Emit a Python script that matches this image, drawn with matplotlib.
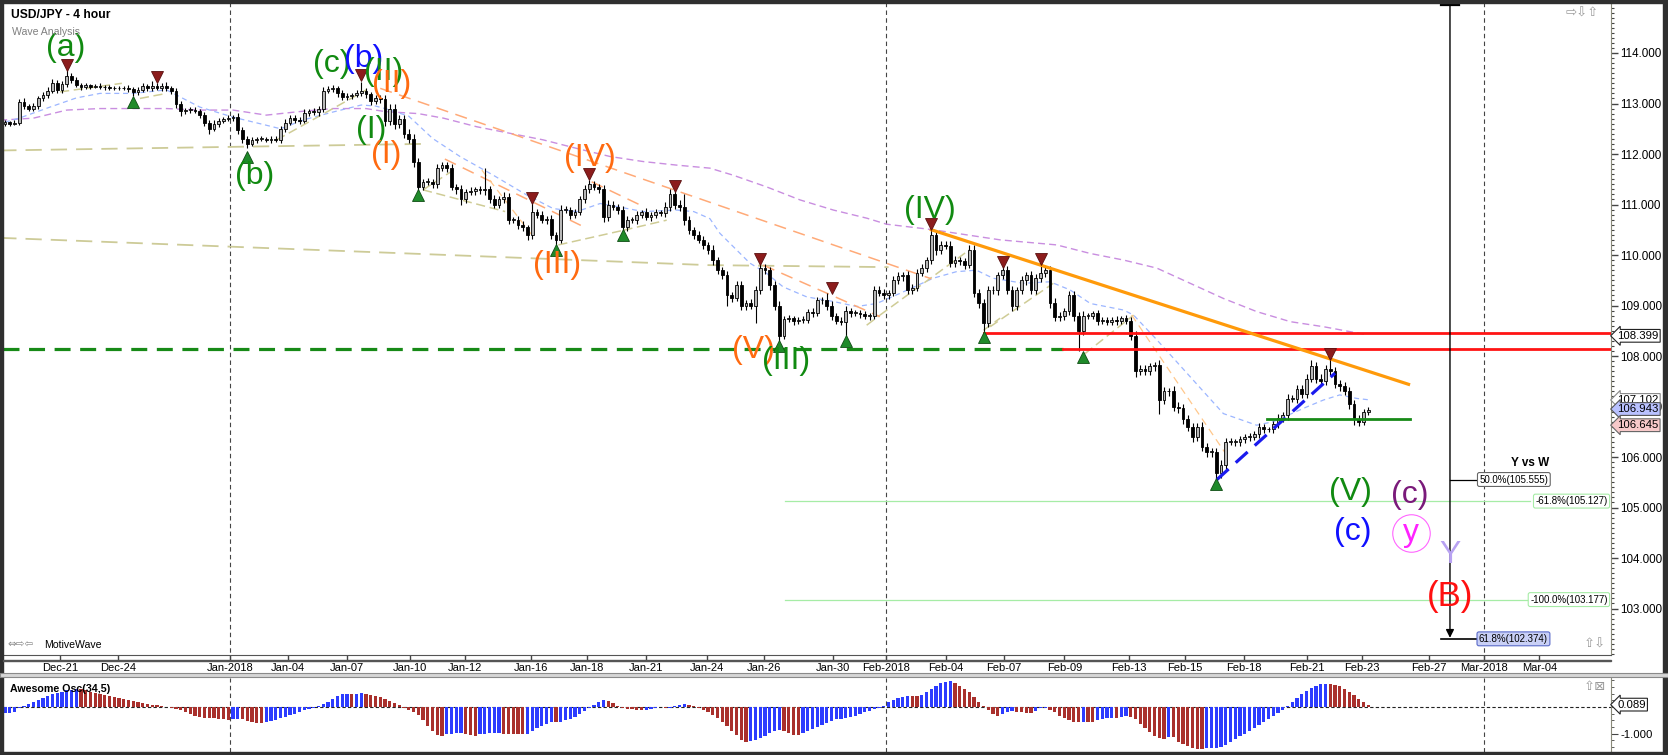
import numpy as np
import matplotlib
matplotlib.use("Agg")
import matplotlib.pyplot as plt
from matplotlib.patches import Rectangle
from matplotlib.transforms import blended_transform_factory
from matplotlib.ticker import MultipleLocator, FixedLocator

plt.rcParams['font.family'] = ['Liberation Sans', 'DejaVu Sans']

# ---- USD/JPY 4h candles (bar index = 4h bar), open = previous close ----
first_open = 112.60
close = [
    112.63, 112.60, 112.62, 113.03, 112.95, 112.90, 112.95, 113.10, 113.17, 113.25, 113.40, 113.27,
    113.38, 113.55, 113.47, 113.37, 113.33, 113.36, 113.33, 113.35, 113.33, 113.32, 113.30, 113.31,
    113.30, 113.31, 113.28, 113.22, 113.27, 113.34, 113.30, 113.35, 113.30, 113.35, 113.30, 113.25,
    113.00, 112.85, 112.88, 112.88, 112.85, 112.78, 112.62, 112.50, 112.60, 112.66, 112.70, 112.72,
    112.73, 112.47, 112.30, 112.20, 112.28, 112.30, 112.30, 112.28, 112.30, 112.28, 112.50, 112.62,
    112.72, 112.68, 112.66, 112.82, 112.85, 112.83, 112.90, 113.25, 113.28, 113.30, 113.20, 113.12,
    113.15, 113.17, 113.20, 113.25, 113.18, 113.05, 113.10, 113.08, 112.65, 112.90, 112.60, 112.70,
    112.40, 112.30, 111.85, 111.35, 111.45, 111.45, 111.40, 111.72, 111.78, 111.72, 111.35, 111.30,
    111.10, 111.25, 111.27, 111.30, 111.28, 111.30, 111.10, 111.00, 111.10, 111.15, 110.70, 110.70,
    110.60, 110.55, 110.40, 110.85, 110.80, 110.70, 110.72, 110.40, 110.30, 110.90, 110.90, 110.80,
    110.85, 111.10, 111.30, 111.40, 111.35, 111.30, 110.75, 111.00, 110.95, 110.90, 110.55, 110.70,
    110.70, 110.80, 110.85, 110.75, 110.80, 110.85, 110.83, 110.95, 111.20, 111.00, 110.95, 110.70,
    110.50, 110.40, 110.30, 110.20, 110.10, 109.90, 109.70, 109.60, 109.20, 109.15, 109.40, 109.00,
    109.05, 109.00, 109.30, 109.75, 109.70, 109.40, 109.00, 108.40, 108.74, 108.75, 108.70, 108.72,
    108.72, 108.88, 108.85, 109.10, 109.10, 109.00, 108.80, 108.70, 108.67, 108.90, 108.85, 108.85,
    108.83, 108.80, 108.80, 109.30, 109.25, 109.20, 109.25, 109.50, 109.58, 109.60, 109.30, 109.35,
    109.65, 109.75, 109.90, 110.40, 110.10, 110.20, 110.18, 109.85, 109.90, 109.88, 109.80, 110.10,
    109.25, 109.05, 108.65, 109.30, 109.30, 109.60, 109.70, 109.30, 109.00, 109.30, 109.50, 109.60,
    109.30, 109.55, 109.65, 109.70, 109.05, 108.77, 108.80, 108.90, 109.20, 108.80, 108.50, 108.80,
    108.80, 108.85, 108.70, 108.72, 108.68, 108.72, 108.70, 108.75, 108.70, 108.40, 107.70, 107.75,
    107.70, 107.80, 107.83, 107.13, 107.30, 107.30, 107.00, 106.98, 106.75, 106.60, 106.40, 106.60,
    106.20, 106.10, 106.10, 105.68, 105.85, 106.30, 106.30, 106.30, 106.35, 106.40, 106.40, 106.45,
    106.60, 106.55, 106.55, 106.65, 106.78, 106.83, 107.15, 107.15, 107.35, 107.25, 107.55, 107.80,
    107.55, 107.50, 107.75, 107.70, 107.45, 107.40, 107.30, 107.05, 106.75, 106.70, 106.90, 106.94,
]
# wick lengths above / below the body, in pips
wick_up = [
    4, 3, 5, 6, 8, 5, 6, 5, 6, 7, 8, 6,
    7, 11, 5, 6, 4, 5, 3, 4, 5, 3, 4, 3,
    3, 4, 5, 4, 6, 7, 5, 10, 6, 5, 7, 4,
    6, 5, 4, 6, 5, 4, 5, 6, 7, 5, 4, 6,
    5, 8, 6, 5, 6, 4, 5, 4, 6, 5, 5, 7,
    6, 5, 6, 7, 5, 6, 6, 8, 7, 6, 5, 6,
    5, 4, 6, 18, 6, 5, 6, 7, 8, 10, 9, 8,
    7, 10, 9, 8, 6, 7, 5, 8, 6, 7, 9, 6,
    8, 6, 7, 5, 6, 42, 7, 8, 6, 9, 8, 6,
    7, 8, 5, 20, 6, 7, 5, 8, 6, 9, 7, 6,
    7, 6, 8, 8, 7, 6, 9, 8, 7, 6, 8, 7,
    6, 7, 5, 8, 6, 7, 5, 9, 10, 7, 8, 25,
    7, 6, 8, 7, 6, 9, 7, 6, 8, 7, 9, 8,
    6, 7, 9, 8, 8, 7, 9, 8, 6, 7, 5, 6,
    7, 6, 8, 7, 6, 15, 8, 6, 7, 9, 6, 7,
    6, 7, 5, 9, 8, 7, 6, 9, 8, 7, 9, 8,
    7, 8, 6, 10, 9, 8, 7, 9, 8, 7, 6, 10,
    9, 8, 7, 9, 8, 7, 10, 8, 9, 7, 8, 6,
    9, 8, 15, 7, 8, 9, 7, 6, 9, 8, 7, 9,
    6, 5, 7, 6, 5, 6, 7, 5, 6, 8, 9, 7,
    8, 7, 6, 9, 8, 7, 10, 8, 7, 9, 8, 7,
    9, 8, 7, 8, 9, 7, 8, 6, 7, 6, 7, 6,
    7, 6, 5, 7, 8, 7, 9, 8, 7, 8, 9, 12,
    8, 9, 7, 22, 8, 7, 9, 8, 7, 8, 6, 5,
]
wick_dn = [
    5, 4, 3, 5, 6, 5, 4, 6, 5, 6, 5, 7,
    6, 5, 7, 5, 6, 4, 5, 3, 4, 5, 4, 3,
    4, 3, 5, 7, 5, 4, 6, 5, 4, 6, 5, 6,
    8, 10, 5, 6, 4, 7, 6, 10, 5, 6, 4, 5,
    6, 7, 9, 8, 5, 6, 4, 5, 6, 5, 7, 6,
    5, 6, 7, 5, 6, 5, 7, 6, 5, 6, 7, 6,
    5, 6, 5, 6, 7, 8, 6, 7, 9, 8, 10, 8,
    9, 8, 10, 8, 7, 6, 8, 7, 6, 8, 7, 9,
    10, 7, 6, 8, 7, 9, 8, 7, 6, 8, 9, 7,
    8, 7, 10, 8, 7, 6, 8, 9, 12, 7, 6, 8,
    7, 6, 8, 7, 6, 8, 9, 7, 6, 8, 8, 7,
    6, 8, 7, 6, 8, 7, 6, 8, 7, 9, 8, 10,
    9, 8, 7, 9, 8, 10, 8, 7, 20, 8, 7, 9,
    8, 7, 35, 8, 7, 9, 8, 10, 7, 6, 8, 7,
    6, 7, 8, 6, 7, 8, 9, 7, 6, 27, 7, 6,
    7, 6, 8, 7, 6, 8, 7, 6, 8, 9, 7, 8,
    7, 6, 8, 7, 9, 8, 7, 8, 9, 7, 8, 6,
    8, 9, 20, 8, 7, 9, 8, 7, 10, 8, 7, 9,
    8, 7, 9, 8, 9, 8, 7, 9, 8, 10, 40, 8,
    7, 6, 8, 7, 6, 7, 8, 6, 7, 9, 12, 8,
    7, 8, 9, 27, 8, 9, 8, 10, 9, 8, 10, 9,
    8, 9, 10, 12, 9, 8, 7, 8, 9, 7, 8, 7,
    8, 7, 6, 8, 7, 8, 9, 7, 8, 9, 8, 7,
    9, 8, 7, 8, 9, 10, 8, 9, 12, 9, 7, 6,
]
# Awesome Oscillator (34,5), one value per bar
ao_vals = [
    -0.24, -0.22, -0.18, -0.05, 0.02, 0.10, 0.18, 0.28, 0.34, 0.41, 0.48, 0.53,
    0.58, 0.62, 0.65, 0.67, 0.66, 0.62, 0.57, 0.53, 0.48, 0.44, 0.40, 0.36,
    0.32, 0.29, 0.26, 0.22, 0.19, 0.16, 0.13, 0.09, 0.06, 0.03, 0.01, -0.03,
    -0.06, -0.12, -0.20, -0.27, -0.33, -0.37, -0.40, -0.42, -0.43, -0.45, -0.46, -0.47,
    -0.45, -0.44, -0.46, -0.52, -0.56, -0.60, -0.61, -0.56, -0.52, -0.48, -0.43, -0.37,
    -0.31, -0.25, -0.18, -0.13, -0.08, -0.04, 0.02, 0.10, 0.18, 0.30, 0.40, 0.47,
    0.50, 0.49, 0.50, 0.51, 0.49, 0.46, 0.42, 0.37, 0.30, 0.22, 0.14, 0.06,
    -0.02, -0.10, -0.18, -0.30, -0.50, -0.70, -0.90, -1.05, -1.10, -1.02, -1.00, -0.99,
    -0.98, -1.00, -1.05, -1.10, -1.02, -1.00, -0.99, -0.98, -0.97, -1.00, -1.00, -1.00,
    -1.01, -1.02, -1.00, -0.88, -0.78, -0.70, -0.62, -0.56, -0.58, -0.56, -0.50, -0.45,
    -0.38, -0.28, -0.15, -0.04, 0.08, 0.20, 0.25, 0.22, 0.14, 0.05, -0.02, -0.06,
    -0.09, -0.11, -0.12, -0.10, -0.06, -0.03, -0.01, -0.04, -0.02, 0.04, 0.08, 0.11,
    0.07, 0.03, -0.04, -0.10, -0.18, -0.30, -0.42, -0.55, -0.70, -0.88, -1.05, -1.25,
    -1.32, -1.28, -1.25, -1.15, -1.08, -0.98, -0.90, -0.85, -0.88, -0.98, -1.05, -1.06,
    -0.98, -0.90, -0.82, -0.74, -0.67, -0.60, -0.52, -0.45, -0.44, -0.42, -0.38, -0.33,
    -0.27, -0.20, -0.14, -0.08, -0.03, 0.04, 0.18, 0.28, 0.33, 0.37, 0.43, 0.42,
    0.41, 0.45, 0.55, 0.68, 0.80, 0.90, 0.95, 0.96, 0.90, 0.80, 0.68, 0.55,
    0.38, 0.20, 0.03, -0.12, -0.28, -0.32, -0.28, -0.20, -0.15, -0.18, -0.20, -0.22,
    -0.23, -0.15, -0.05, -0.03, -0.10, -0.20, -0.32, -0.42, -0.50, -0.55, -0.56, -0.55,
    -0.55, -0.56, -0.50, -0.45, -0.42, -0.40, -0.42, -0.38, -0.35, -0.37, -0.45, -0.62,
    -0.80, -0.95, -1.08, -1.15, -1.18, -1.12, -1.14, -1.30, -1.40, -1.47, -1.53, -1.56,
    -1.58, -1.55, -1.54, -1.53, -1.50, -1.42, -1.30, -1.20, -1.10, -1.00, -0.90, -0.78,
    -0.68, -0.57, -0.45, -0.33, -0.22, -0.10, 0.02, 0.18, 0.35, 0.48, 0.60, 0.70,
    0.78, 0.85, 0.88, 0.86, 0.82, 0.77, 0.68, 0.57, 0.45, 0.30, 0.20, 0.089,
]

# date axis (bar positions of the day labels)
date_labels = ['Dec-21', 'Dec-24', 'Jan-2018', 'Jan-04', 'Jan-07', 'Jan-10', 'Jan-12', 'Jan-16',
               'Jan-18', 'Jan-21', 'Jan-24', 'Jan-26', 'Jan-30', 'Feb-2018', 'Feb-04', 'Feb-07',
               'Feb-09', 'Feb-13', 'Feb-15', 'Feb-18', 'Feb-21', 'Feb-23', 'Feb-27', 'Mar-2018', 'Mar-04']
date_pos = [11.6, 23.8, 47.4, 59.6, 72.0, 85.3, 96.8, 110.7, 122.5, 135.0, 147.8, 159.8, 174.3,
            185.5, 198.0, 210.3, 223.0, 236.6, 248.4, 260.8, 274.0, 285.7, 299.8, 311.4, 323.0]
month_pos = [47.4, 185.5, 311.4]

# moving averages (bar, price)
ma_fast_x = [0, 3, 9.5, 15, 20, 27, 34, 41, 48, 55, 58, 63, 69, 75, 78, 80, 85, 90, 95.8, 102.8,
             109.8, 115.4, 120.4, 125.3, 128.8, 134.4, 141.4, 145, 148.4, 150.5, 156.8, 160.3, 163.8,
             168.8, 174.4, 179.3, 183.5, 188.4, 195.4, 200.3, 204.5, 208, 214.4, 220, 224.2, 228.5,
             235.5, 237.6, 242.5, 249.5, 256.5, 263.5, 267, 274, 277.6, 281, 284.6, 287.4]
ma_fast_y = [112.63, 112.71, 112.93, 113.11, 113.2, 113.2, 113.27, 112.93, 112.73, 112.57, 112.5,
             112.68, 112.83, 112.97, 112.95, 112.9, 112.75, 112.31, 111.95, 111.58, 111.19, 110.92,
             110.86, 111.02, 110.96, 110.86, 110.89, 110.86, 110.72, 110.43, 109.84, 109.64, 109.37,
             109.17, 109.08, 108.98, 109.04, 109.24, 109.54, 109.67, 109.7, 109.54, 109.44, 109.47,
             109.31, 109.04, 108.91, 108.81, 108.32, 107.59, 106.86, 106.63, 106.7, 106.99, 107.13,
             107.23, 107.16, 107.13]
ma_slow_x = [-1, 6, 13, 20, 34, 41, 48, 55, 62, 69, 76, 80, 87, 92.3, 99.3, 106.3, 113.3, 120.4,
             127.4, 134.4, 141.4, 148.4, 153.3, 160.3, 167.4, 174.4, 181.4, 185.6, 195.4, 202.4,
             209.5, 221.4, 228.5, 235.5, 242.5, 249.5, 256.5, 263.5, 270.6, 277.6, 286.7]
ma_slow_y = [112.67, 112.71, 112.87, 112.9, 112.9, 112.87, 112.87, 112.77, 112.84, 112.9, 112.9,
             112.84, 112.8, 112.71, 112.54, 112.41, 112.28, 112.11, 111.95, 111.85, 111.78, 111.72,
             111.58, 111.35, 111.09, 110.89, 110.73, 110.61, 110.5, 110.4, 110.3, 110.2, 110.03,
             109.9, 109.74, 109.44, 109.14, 108.88, 108.68, 108.58, 108.42]
ma_long_x = [-1, 85, 148, 186]
ma_long_y = [110.34, 110.03, 109.80, 109.76]
ma_mid_x = [-1, 88]
ma_mid_y = [112.07, 112.20]

# swing connectors (bar0, price0, bar1, price1)
zigzag = [(11.6, 113.23, 24.6, 113.40), (28.4, 113.10, 34.0, 113.20), (57.2, 112.28, 76.1, 113.27),
          (88.0, 111.29, 94.4, 111.68), (88.0, 111.29, 105.3, 110.86), (116.5, 110.20, 130.2, 110.49),
          (130.2, 110.49, 139.3, 110.69), (181.4, 108.61, 184.2, 108.81), (184.2, 108.81, 203.0, 110.10),
          (206.0, 108.51, 209.5, 108.75), (207.4, 108.58, 220.7, 109.44), (227.4, 108.05, 237.6, 108.81)]
channels = [(79.0, 113.30, 195.0, 109.53), (92.6, 111.90, 121.8, 110.56), (123.5, 111.45, 134.4, 110.96),
            (159.6, 109.80, 184.2, 108.78)]
channels_light = [(100.4, 111.68, 110.9, 110.40), (237.2, 108.81, 257.9, 105.94)]

# pivot markers
piv_hi_x = [13, 32, 75, 111, 123, 141, 159, 174, 195, 210, 218, 279]
piv_hi_y = [113.76, 113.52, 113.56, 111.13, 111.60, 111.37, 109.92, 109.35, 110.61, 109.86, 109.92, 108.04]
piv_lo_x = [27, 51, 87, 116, 130, 163, 177, 206, 227, 255]
piv_lo_y = [113.03, 111.94, 111.19, 110.10, 110.40, 108.20, 108.30, 108.37, 107.98, 105.47]

# key levels and trend lines
support_level = 108.14
support_end = 222.7
resist_top = 108.45
resist_top_start = 206
trend_x = [194.7, 295.8]
trend_y = [110.51, 107.43]
channel_x = [255.1, 280.0]
channel_y = [105.55, 107.66]
flat_level = 106.75
flat_x = [265.6, 295.8]
fib_levels = [105.127, 103.177]
fib_start = 164.2
fib_end = 321.0
target_bar = 304.2
target_hi = 105.555
target_lo = 102.40

# Elliott wave labels
wave_text = ['(a)', '(b)', '(c)', '(b)', '(II)', '(II)', '(I)', '(I)', '(IV)', '(III)', '(V)',
             '(III)', '(IV)', '(V)', '(c)', '(c)', 'y', 'Y', '(B)']
wave_x = [12.8, 52.6, 68.8, 75.4, 79.8, 81.3, 77.1, 80.2, 123.2, 116.2, 157.5, 164.4, 194.7,
          283.2, 283.8, 295.8, 296.0, 304.2, 304.2]
wave_y = [114.10, 111.56, 113.78, 113.88, 113.62, 113.39, 112.48, 111.98, 111.92, 109.80, 108.12,
          107.90, 110.89, 105.31, 104.51, 105.25, 104.50, 104.06, 103.23]
wave_col = ['#118a11', '#118a11', '#118a11', '#1010ff', '#118a11', '#ff6a10', '#118a11', '#ff6a10',
            '#ff6a10', '#ff6a10', '#ff6a10', '#118a11', '#118a11', '#118a11', '#1010ff', '#7a1a7a',
            '#ff22ff', '#b8a2f2', '#ff1010']

W, H = 1668, 755
fig = plt.figure(figsize=(W / 100, H / 100), dpi=100)


def rect(l, t, r, b):
    return [l / W, 1 - b / H, (r - l) / W, (b - t) / H]


ax = fig.add_axes(rect(3, 3, 1611, 655))
oax = fig.add_axes(rect(3, 678, 1611, 752))
xmin, xmax = -0.42, 338.1

n = min(len(close), len(wick_up), len(wick_dn), len(ao_vals))
x = np.arange(n)
c = np.array(close[:n])
o = np.r_[first_open, c[:-1]]
hi = np.maximum(o, c) + np.array(wick_up[:n]) / 100
lo = np.minimum(o, c) - np.array(wick_dn[:n]) / 100
up = c >= o
body = np.maximum(np.abs(c - o), 0.012)

# indicator lines
ax.plot(ma_slow_x, ma_slow_y, color='#c98ee0', lw=1.0, dashes=(5, 3), zorder=2)
ax.plot(ma_fast_x, ma_fast_y, color='#9cb6ff', lw=0.9, dashes=(4, 3), zorder=2)
ax.plot(ma_long_x, ma_long_y, color='#cdcb98', lw=1.3, dashes=(9, 5), zorder=2)
ax.plot(ma_mid_x, ma_mid_y, color='#cdcb98', lw=1.3, dashes=(9, 5), zorder=2)
for x0, y0, x1, y1 in zigzag:
    ax.plot([x0, x1], [y0, y1], color='#cfcc96', lw=1.1, dashes=(6, 3), zorder=2)
for x0, y0, x1, y1 in channels:
    ax.plot([x0, x1], [y0, y1], color='#ffaa78', lw=1.1, dashes=(8, 5), zorder=2)
for x0, y0, x1, y1 in channels_light:
    ax.plot([x0, x1], [y0, y1], color='#ffc88c', lw=0.9, dashes=(6, 4), zorder=2)

# fib lines
for lvl in fib_levels:
    ax.plot([fib_start, fib_end], [lvl, lvl], color='#a6eca6', lw=0.9, zorder=2)

# candles
ax.vlines(x, lo, hi, color='black', lw=0.8, zorder=3)
ax.bar(x[up], body[up], bottom=o[up], width=0.62, color='#b8b8b8', edgecolor='black',
       linewidth=0.6, zorder=4)
ax.bar(x[~up], body[~up], bottom=c[~up], width=0.62, color='black', edgecolor='black',
       linewidth=0.6, zorder=4)

# pivots
ax.plot(piv_hi_x, piv_hi_y, 'v', ms=9, color='#8c1c1c', mec='#5a0f0f', mew=0.6, zorder=6)
ax.plot(piv_lo_x, piv_lo_y, '^', ms=9, color='#1f8a2a', mec='#0f4d14', mew=0.6, zorder=6)

# key lines
ax.plot([xmin, support_end], [support_level, support_level], color='#178a17', lw=2.3,
        dashes=(5, 3), zorder=5)
ax.plot([support_end, xmax], [support_level, support_level], color='#ff1414', lw=2.0, zorder=5)
ax.plot([resist_top_start, xmax], [resist_top, resist_top], color='#ff1414', lw=2.0, zorder=5)
ax.plot(trend_x, trend_y, color='#ff9a0a', lw=2.3, zorder=5, solid_capstyle='butt')
ax.plot(channel_x, channel_y, color='#1a1aee', lw=2.3, dashes=(5, 3), zorder=5)
ax.plot(flat_x, [flat_level, flat_level], color='#178a17', lw=2.0, zorder=5)

# projection arrow
ax.annotate('', xy=(target_bar, target_lo + 0.02), xytext=(target_bar, 114.97),
            arrowprops=dict(arrowstyle='-|>', color='black', lw=1.0, mutation_scale=12,
                            shrinkA=0, shrinkB=0), zorder=5)
ax.plot([target_bar - 1.9, target_bar + 1.9], [114.95, 114.95], color='black', lw=1.6, zorder=5)
ax.plot([target_bar - 1.9, 310.2], [target_lo, target_lo], color='black', lw=1.2, zorder=5)
ax.plot([target_bar, 310.3], [target_hi, target_hi], color='black', lw=0.9, zorder=5)

tag_kw = dict(fontsize=7, va='center', zorder=8)
ax.text(310.4, target_hi, '50.0%(105.555)', ha='left',
        bbox=dict(boxstyle='round,pad=0.2', fc='white', ec='#666666', lw=0.8), **tag_kw)
ax.text(337.4, fib_levels[0], '-61.8%(105.127)', ha='right',
        bbox=dict(boxstyle='round,pad=0.2', fc='white', ec='#a6eca6', lw=0.8), **tag_kw)
ax.text(337.4, fib_levels[1], '-100.0%(103.177)', ha='right',
        bbox=dict(boxstyle='round,pad=0.2', fc='white', ec='#a6eca6', lw=0.8), **tag_kw)
ax.text(310.3, target_lo, '61.8%(102.374)', ha='left',
        bbox=dict(boxstyle='round,pad=0.2', fc='#c9d0f6', ec='#5a6ac8', lw=0.8), **tag_kw)
ax.text(321, 105.88, 'Y vs W', ha='center', va='center', fontsize=8.5, fontweight='bold', zorder=8)

# wave labels
for t, wx, wy, col in zip(wave_text, wave_x, wave_y, wave_col):
    fs = 25 if t == '(B)' else 23
    ax.text(wx, wy, t, color=col, fontsize=fs, ha='center', va='center', zorder=7)
ax.plot([wave_x[16]], [wave_y[16]], 'o', ms=27, mfc='none', mec='#ff66ff', mew=0.8, zorder=7)

# axes styling: price panel
ax.set_xlim(xmin, xmax)
ax.set_ylim(102.08, 114.99)
for s in ['top', 'left']:
    ax.spines[s].set_visible(False)
ax.spines['right'].set_color('#8a8a7a')
ax.spines['bottom'].set_color('#555555')
ax.yaxis.tick_right()
ax.yaxis.set_major_locator(FixedLocator(np.arange(103, 115)))
ax.yaxis.set_minor_locator(MultipleLocator(0.1))
ax.yaxis.set_major_formatter(plt.FuncFormatter(lambda v, p: '%.3f' % v))
ax.tick_params(axis='y', which='major', length=5, width=1, color='#444', labelsize=8.4, pad=1.5)
ax.tick_params(axis='y', which='minor', length=2.5, width=0.8, color='#444')
ax.set_xticks(date_pos)
ax.set_xticklabels(date_labels)
ax.tick_params(axis='x', length=3.7, width=1, color='#444', labelsize=8, pad=2.2)
for mp in month_pos:
    ax.axvline(mp, ymin=-5 / 652, ymax=1, clip_on=False, color='#444', lw=0.8, dashes=(4, 3),
               zorder=1)

trans = blended_transform_factory(ax.transAxes, ax.transData)
side_tags = [('108.399', 108.40, 'white', '#222'), ('107.102', 107.13, 'white', '#888'),
             ('106.943', 106.95, '#b9c1ff', '#555'), ('106.645', 106.63, '#f7c9c9', '#666')]
for txt, val, fc, ec in side_tags:
    ax.text(1.004, val, txt, transform=trans, fontsize=8.2, va='center', ha='left', clip_on=False,
            bbox=dict(boxstyle='larrow,pad=0.12', fc=fc, ec=ec, lw=0.8), zorder=10)

# oscillator panel
ao = np.array(ao_vals[:n])
rising = np.r_[True, ao[1:] > ao[:-1]]
oax.bar(x, ao, width=0.72, color=np.where(rising, '#2c3cff', '#a9302c'), zorder=3)
oax.axhline(0, color='#222', lw=0.8, dashes=(3, 2), zorder=2)
for mp in month_pos:
    oax.axvline(mp, color='#444', lw=0.8, dashes=(4, 3), zorder=1)
oax.set_xlim(xmin, xmax)
oax.set_ylim(-1.685, 1.086)
for s in ['top', 'left', 'bottom']:
    oax.spines[s].set_visible(False)
oax.spines['right'].set_color('#8a8a7a')
oax.set_xticks([])
oax.yaxis.tick_right()
oax.yaxis.set_major_locator(FixedLocator([-1.0]))
oax.yaxis.set_minor_locator(MultipleLocator(0.25))
oax.yaxis.set_major_formatter(plt.FuncFormatter(lambda v, p: '%.3f' % v))
oax.tick_params(axis='y', which='major', length=5, color='#444', labelsize=8.2, pad=1.5)
oax.tick_params(axis='y', which='minor', length=2.5, color='#444')
otrans = blended_transform_factory(oax.transAxes, oax.transData)
oax.text(1.004, ao[-1], '%.3f' % ao[-1], transform=otrans, fontsize=8.2, va='center', ha='left',
         clip_on=False, bbox=dict(boxstyle='larrow,pad=0.12', fc='white', ec='#222', lw=0.8), zorder=10)

# frame, date strip rules and captions
dark = '#2f2f2f'
fig.add_artist(Rectangle((0, 1 - 3 / H), 1, 3 / H, transform=fig.transFigure, color=dark))
fig.add_artist(Rectangle((0, 0), 3 / W, 1, transform=fig.transFigure, color=dark))
fig.add_artist(Rectangle((1 - 5 / W, 0), 5 / W, 1, transform=fig.transFigure, color=dark))
fig.add_artist(Rectangle((0, 0), 1, 3 / H, transform=fig.transFigure, color=dark))
fig.add_artist(Rectangle((3 / W, 1 - 661 / H), 1608 / W, 1 / H, transform=fig.transFigure,
                         color='#555555'))
fig.add_artist(Rectangle((0, 1 - 677 / H), 1, 4 / H, transform=fig.transFigure,
                         fc='#d6d6d6', ec='#8a8a8a', lw=0.8))

fig.text(11 / W, 1 - 15 / H, 'USD/JPY - 4 hour', fontsize=8.7, fontweight='bold', va='center')
fig.text(12 / W, 1 - 32 / H, 'Wave Analysis', fontsize=7.6, color='#808080', va='center')
fig.text(10 / W, 1 - 689 / H, 'Awesome Osc(34,5)', fontsize=7.7, fontweight='bold', va='center')
fig.text(7 / W, 1 - 645 / H, '\u21d4\u21e8\u21e6', fontsize=7.5, color='#888', va='center',
         family='DejaVu Sans')
fig.text(44 / W, 1 - 645 / H, 'MotiveWave', fontsize=7.6, va='center')
fig.text(1566 / W, 1 - 13 / H, '\u21e8\u21e9\u21e7', fontsize=9.5, color='#999', va='center',
         family='DejaVu Sans')
fig.text(1584 / W, 1 - 644 / H, '\u21e7\u21e9', fontsize=9.5, color='#999', va='center',
         family='DejaVu Sans')
fig.text(1584 / W, 1 - 687 / H, '\u21e7\u22a0', fontsize=9.5, color='#999', va='center',
         family='DejaVu Sans')

fig.savefig('out.png', dpi=100, facecolor='white')
